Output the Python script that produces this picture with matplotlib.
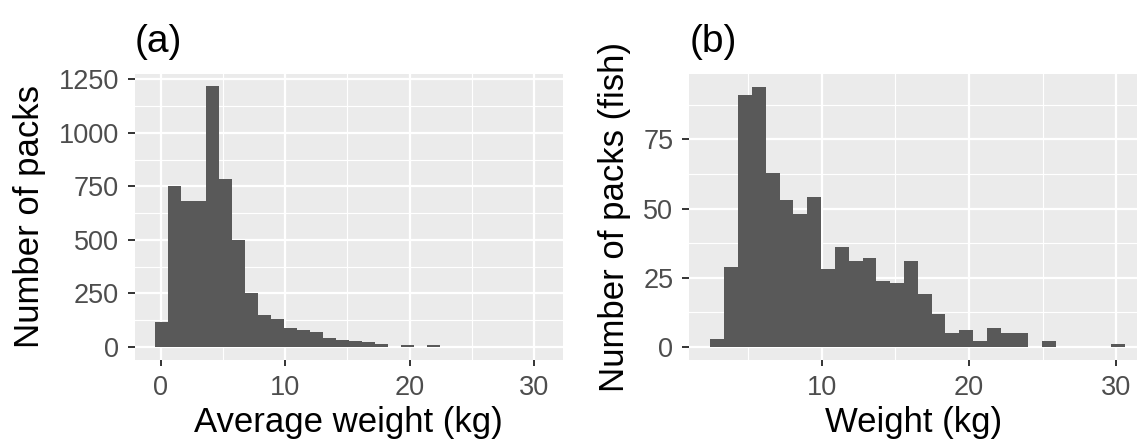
import numpy as np
import matplotlib
matplotlib.use("Agg")
import matplotlib.pyplot as plt

# ── data (ggplot default 30 bins) ────────────────────────────────────────────
# (a) average pack weight
avg_edges_lo, avg_edges_hi = -0.49, 30.74
avg_counts = [115, 753, 680, 682, 1218, 783, 500, 250, 148, 132,
              87, 78, 72, 40, 31, 27, 24, 14, 2, 8,
              2, 8, 1, 1, 0, 0, 0, 0, 0, 0]

# (b) individual fish weight
fish_edges_lo, fish_edges_hi = 2.44, 30.61
fish_counts = [3, 29, 91, 94, 63, 53, 48, 54, 28, 36,
               31, 32, 24, 23, 31, 19, 12, 5, 6, 2,
               7, 5, 5, 0, 2, 0, 0, 0, 0, 1]

x_ticks = [0, 10, 20, 30]
a_yticks = [0, 250, 500, 750, 1000, 1250]
b_yticks = [0, 25, 50, 75]

# ggplot theme_grey look
PANEL = "#EBEBEB"
BAR = "#595959"
TICKTXT = "#4D4D4D"
TICKCOL = "#333333"

plt.rcParams["font.family"] = ["Liberation Sans", "DejaVu Sans"]

fig = plt.figure(figsize=(11.37, 4.45), dpi=100)
W, H = 1137, 445


def px_axes(l, t, r, b):
    return fig.add_axes([l / W, 1 - b / H, (r - l) / W, (b - t) / H])


def style(ax, xticks, yticks, xlim, ylim, xminor, yminor):
    ax.set_facecolor(PANEL)
    for s in ax.spines.values():
        s.set_visible(False)
    ax.set_xticks(xticks)
    ax.set_yticks(yticks)
    # limits after ticks, otherwise set_xticks widens the view
    ax.set_xlim(*xlim)
    ax.set_ylim(*ylim)
    ax.set_axisbelow(True)
    for v in xminor:
        ax.axvline(v, color="white", lw=0.8, zorder=0)
    for v in yminor:
        ax.axhline(v, color="white", lw=0.8, zorder=0)
    ax.grid(True, color="white", lw=1.6, zorder=0.5)
    ax.tick_params(axis="both", colors=TICKCOL, labelcolor=TICKTXT,
                   labelsize=19.5, width=1.4)
    ax.tick_params(axis="x", length=4.5, pad=6)
    ax.tick_params(axis="y", length=5, pad=6.5)


def draw(ax, lo, hi, counts):
    edges = np.linspace(lo, hi, len(counts) + 1)
    ax.bar(edges[:-1], counts, width=np.diff(edges), align="edge",
           color=BAR, linewidth=0, zorder=2)


# ── panel (a) ────────────────────────────────────────────────────────────────
axA = px_axes(135, 74, 562.7, 360)
draw(axA, avg_edges_lo, avg_edges_hi, avg_counts)
style(axA, x_ticks, a_yticks, (-2.07, 32.31), (-60.7, 1275), [5, 15, 25],
      [125, 375, 625, 875, 1125])
axA.set_xlabel("Average weight (kg)", fontsize=25, labelpad=4)
axA.set_ylabel("Number of packs", fontsize=25, labelpad=9)
axA.set_title("(a)", loc="left", fontsize=28, pad=16)

# ── panel (b) ────────────────────────────────────────────────────────────────
axB = px_axes(689.3, 74, 1137, 360)
draw(axB, fish_edges_lo, fish_edges_hi, fish_counts)
style(axB, x_ticks, b_yticks, (1.0, 31.42), (-4.7, 98.6), [5, 15, 25],
      [12.5, 37.5, 62.5, 87.5])
axB.set_xlabel("Weight (kg)", fontsize=25, labelpad=4)
axB.set_ylabel("Number of packs (fish)", fontsize=25, labelpad=9)
axB.set_title("(b)", loc="left", fontsize=28, pad=16)

fig.savefig("out.png", dpi=100)
